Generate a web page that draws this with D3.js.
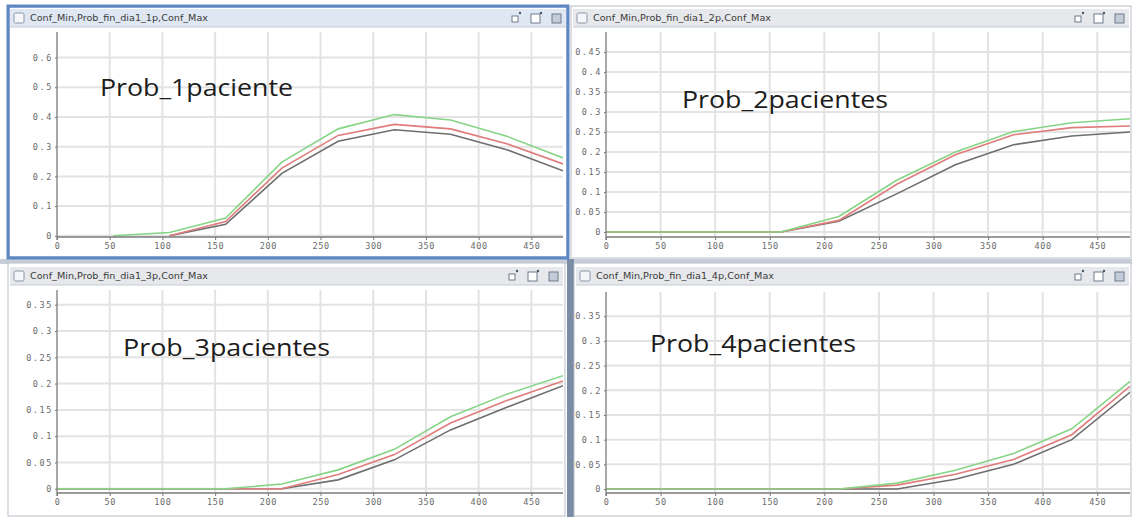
<!DOCTYPE html>
<html>
<head>
<meta charset="utf-8">
<script src="https://cdn.jsdelivr.net/npm/d3@7"></script>
<style>
  body { margin: 0; background: #ffffff; }
  svg { display: block; }
  .tick-label { font-family: "DejaVu Sans Mono", monospace; font-size: 8.5px; fill: #6a6a6a; }
  .y-tick .tick-label { letter-spacing: 1.6px; }
  .x-tick .tick-label { letter-spacing: 0.6px; }
  .win-title { font-family: "DejaVu Sans", sans-serif; font-size: 8px; fill: #3a3a3a; }
  .big-label { font-family: "Open Sans", "Noto Sans", sans-serif; font-size: 24px; fill: #1c1c1c; }
</style>
</head>
<body>
<svg id="chart" width="1132" height="517"></svg>
<script>
// sample times (x) shared by all panels
const xVals = [0, 53.3, 106.7, 160, 213.3, 266.7, 320, 373.3, 426.7, 480];
const xTicks = [0, 50, 100, 150, 200, 250, 300, 350, 400, 450];

// panel 1: Prob_1paciente
const confMin1 = [null, null, 0, 0.039, 0.21, 0.318, 0.357, 0.342, 0.29, 0.219];
const prob1    = [null, null, 0, 0.048, 0.228, 0.338, 0.375, 0.36, 0.31, 0.242];
const confMax1 = [null, 0, 0.011, 0.06, 0.248, 0.36, 0.408, 0.39, 0.335, 0.262];
const yTicks1 = [0, 0.1, 0.2, 0.3, 0.4, 0.5, 0.6];

// panel 2: Prob_2pacientes
const confMin2 = [0, 0, 0, 0, 0.027, 0.096, 0.168, 0.218, 0.24, 0.25];
const prob2    = [0, 0, 0, 0, 0.029, 0.12, 0.193, 0.243, 0.261, 0.265];
const confMax2 = [0, 0, 0, 0, 0.039, 0.13, 0.2, 0.251, 0.273, 0.283];
const yTicks2 = [0, 0.05, 0.1, 0.15, 0.2, 0.25, 0.3, 0.35, 0.4, 0.45];

// panel 3: Prob_3pacientes
const confMin3 = [0, 0, 0, 0, 0, 0.017, 0.055, 0.112, 0.155, 0.196];
const prob3    = [0, 0, 0, 0, 0, 0.027, 0.065, 0.125, 0.168, 0.205];
const confMax3 = [0, 0, 0, 0, 0.009, 0.036, 0.075, 0.137, 0.18, 0.215];
const yTicks3 = [0, 0.05, 0.1, 0.15, 0.2, 0.25, 0.3, 0.35];

// panel 4: Prob_4pacientes
const confMin4 = [0, 0, 0, 0, 0, 0, 0.02, 0.05, 0.1, 0.196];
const prob4    = [0, 0, 0, 0, 0, 0.008, 0.03, 0.06, 0.11, 0.208];
const confMax4 = [0, 0, 0, 0, 0, 0.012, 0.038, 0.072, 0.122, 0.218];
const yTicks4 = [0, 0.05, 0.1, 0.15, 0.2, 0.25, 0.3, 0.35];

const winTitles = [
  'Conf_Min,Prob_fin_dia1_1p,Conf_Max',
  'Conf_Min,Prob_fin_dia1_2p,Conf_Max',
  'Conf_Min,Prob_fin_dia1_3p,Conf_Max',
  'Conf_Min,Prob_fin_dia1_4p,Conf_Max'
];
const bigLabels = ['Prob_1paciente', 'Prob_2pacientes', 'Prob_3pacientes', 'Prob_4pacientes'];

const seriesColors = ['#6e6e6e', '#e07b7b', '#86d486'];  // Conf_Min, Prob, Conf_Max

const panels = [
  {win: [7, 5, 562, 254], active: true, titleY: 18, plot: {left: 57, right: 563, top: 32, axisY: 237},
   yDomain: [-0.004, 0.686], yTicks: yTicks1, series: [confMin1, prob1, confMax1], label: [100, 96, 193]},
  {win: [570, 5, 562, 254], active: false, titleY: 18, plot: {left: 606, right: 1130, top: 32, axisY: 237},
   yDomain: [-0.0125, 0.5], yTicks: yTicks2, series: [confMin2, prob2, confMax2], label: [682, 108, 206]},
  {win: [7, 262, 559, 255], active: false, titleY: 276, plot: {left: 57, right: 563, top: 290, axisY: 493},
   yDomain: [-0.008, 0.378], yTicks: yTicks3, series: [confMin3, prob3, confMax3], label: [123, 356, 207]},
  {win: [573, 262, 559, 255], active: false, titleY: 276, plot: {left: 606, right: 1130, top: 292, axisY: 493},
   yDomain: [-0.008, 0.399], yTicks: yTicks4, series: [confMin4, prob4, confMax4], label: [650, 352, 206]}
];

const svg = d3.select('#chart');
const fmt = d => d3.format('~g')(d);

// desktop background / splitters
svg.append('rect').attr('x', 0).attr('y', 0).attr('width', 1132).attr('height', 517).attr('fill', '#ffffff');
svg.append('rect').attr('x', 0).attr('y', 259).attr('width', 1132).attr('height', 5).attr('fill', '#c7ced8');
svg.append('rect').attr('x', 567).attr('y', 259).attr('width', 7).attr('height', 258).attr('fill', '#7b8da4');


function drawWindow(g, p, i) {
  const [wx, wy, ww, wh] = p.win;
  g.append('rect')
      .attr('x', wx + 1).attr('y', wy + 1)
      .attr('width', ww - 2).attr('height', wh - 2)
      .attr('fill', '#ffffff')
      .attr('stroke', p.active ? '#5f87c4' : '#b8bec7')
      .attr('stroke-width', p.active ? 3 : 1);
  // title bar
  const tb = p.titleY - 9;
  g.append('rect')
      .attr('x', wx + 3).attr('y', tb)
      .attr('width', ww - 6).attr('height', 18)
      .attr('fill', p.active ? '#dfe7f2' : '#e6e8eb');
  g.append('line')
      .attr('x1', wx + 3).attr('x2', wx + ww - 3)
      .attr('y1', tb + 18).attr('y2', tb + 18)
      .attr('stroke', '#c5ccd6');
  g.append('rect')
      .attr('x', wx + 7).attr('y', p.titleY - 5)
      .attr('width', 10).attr('height', 10).attr('rx', 1.5)
      .attr('fill', '#f4f6f9').attr('stroke', '#8a96a8');
  g.append('text')
      .attr('class', 'win-title')
      .attr('x', wx + 23).attr('y', p.titleY + 3)
      .attr('textLength', 178).attr('lengthAdjust', 'spacingAndGlyphs')
      .text(winTitles[i]);
  // window buttons
  const right = wx + ww;
  [right - 53, right - 34, right - 13].forEach((bx, k) => {
    g.append('rect')
        .attr('x', bx - 4).attr('y', p.titleY - (k === 0 ? 2 : 4))
        .attr('width', k === 0 ? 6 : 9).attr('height', k === 0 ? 6 : 9)
        .attr('fill', k === 2 ? '#c3ccd8' : '#ffffff')
        .attr('stroke', '#6f7b8c').attr('stroke-width', 1);
    if (k < 2) {
      g.append('circle')
          .attr('cx', bx + (k === 0 ? 4 : 6)).attr('cy', p.titleY - 5)
          .attr('r', 1.2).attr('fill', '#4a5668');
    }
  });
}


function drawPlot(g, p, i) {
  const pl = p.plot;
  const x = d3.scaleLinear().domain([0, 480]).range([pl.left, pl.right]);
  const y = d3.scaleLinear().domain(p.yDomain).range([pl.axisY, pl.top]);

  const clipId = `clip${i}`;
  g.append('clipPath').attr('id', clipId)
    .append('rect')
      .attr('x', pl.left).attr('y', pl.top)
      .attr('width', pl.right - pl.left).attr('height', pl.axisY - pl.top + 2);

  // grid
  const grid = g.append('g').attr('class', 'grid');
  grid.selectAll('.vgrid')
    .data(xTicks.slice(1))
    .enter().append('line')
      .attr('class', 'vgrid')
      .attr('x1', d => x(d)).attr('x2', d => x(d))
      .attr('y1', pl.top).attr('y2', pl.axisY)
      .attr('stroke', '#e3e3e3').attr('stroke-width', 2);
  grid.selectAll('.hgrid')
    .data(p.yTicks)
    .enter().append('line')
      .attr('class', 'hgrid')
      .attr('x1', pl.left).attr('x2', pl.right)
      .attr('y1', d => y(d)).attr('y2', d => y(d))
      .attr('stroke', '#e3e3e3').attr('stroke-width', 2);

  // series
  const line = d3.line()
    .defined(d => d[1] !== null)
    .x(d => x(d[0]))
    .y(d => y(d[1]));
  g.append('g')
      .attr('clip-path', `url(#${clipId})`)
    .selectAll('path')
    .data(p.series)
    .enter().append('path')
      .attr('d', s => line(s.map((v, k) => [xVals[k], v])))
      .attr('fill', 'none')
      .attr('stroke', (s, k) => seriesColors[k])
      .attr('stroke-width', 1.6);

  // axes
  const xAxis = d3.axisBottom(x).tickValues(xTicks).tickSize(3).tickPadding(3).tickFormat(fmt);
  const yAxis = d3.axisLeft(y).tickValues(p.yTicks).tickSize(2).tickPadding(2).tickFormat(fmt);
  const gx = g.append('g').attr('class', 'x-tick').attr('transform', `translate(0,${pl.axisY})`).call(xAxis);
  const gy = g.append('g').attr('class', 'y-tick').attr('transform', `translate(${pl.left},0)`).call(yAxis);
  [gx, gy].forEach(a => {
    a.select('.domain').remove();
    a.selectAll('.tick line').attr('stroke', '#777');
    a.selectAll('.tick text').attr('class', 'tick-label').attr('fill', null);
  });
  g.append('line')
      .attr('x1', pl.left).attr('x2', pl.right)
      .attr('y1', pl.axisY).attr('y2', pl.axisY)
      .attr('stroke', '#7a7a7a').attr('stroke-width', 1.3);
  g.append('line')
      .attr('x1', pl.left).attr('x2', pl.left)
      .attr('y1', pl.top).attr('y2', pl.axisY + 3)
      .attr('stroke', '#7a7a7a').attr('stroke-width', 1.3);

  g.append('text')
      .attr('class', 'big-label')
      .attr('x', p.label[0]).attr('y', p.label[1])
      .attr('textLength', p.label[2]).attr('lengthAdjust', 'spacingAndGlyphs')
      .text(bigLabels[i]);
}


panels.forEach((p, i) => {
  const g = svg.append('g').attr('class', `panel panel-${i}`);
  const clipW = `win${i}`;
  svg.append('clipPath').attr('id', clipW)
    .append('rect')
      .attr('x', p.win[0]).attr('y', p.win[1])
      .attr('width', p.win[2]).attr('height', p.win[3]);
  g.attr('clip-path', `url(#${clipW})`);
  drawWindow(g, p, i);
  drawPlot(g, p, i);
});
// active window border drawn last so it sits over its neighbour's edge
svg.append('rect')
    .attr('x', 8).attr('y', 6).attr('width', 560).attr('height', 252)
    .attr('fill', 'none').attr('stroke', '#5f87c4').attr('stroke-width', 3);
</script>
</body>
</html>
